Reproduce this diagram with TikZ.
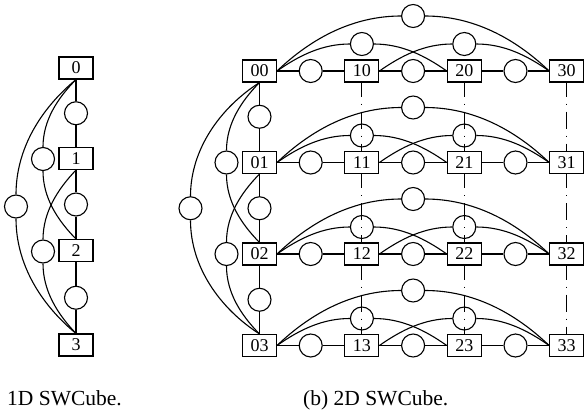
\documentclass[tikz,border=0pt]{standalone}
\usepackage{fontspec}
\setmainfont{Liberation Serif}
\begin{document}
\begin{tikzpicture}[x=1pt,y=1pt,
  box/.style={draw, rectangle, minimum width=34pt, minimum height=22pt, inner sep=0pt, font=\fontsize{18}{18}\selectfont, line width=1.1pt},
  circ/.style={draw, circle, minimum size=23pt, inner sep=0pt, line width=1.1pt},
  ln/.style={line width=1.1pt, looseness=0.9},
  dd/.style={line width=1pt, dash pattern=on 17pt off 7pt on 1pt off 7pt, dash phase=3pt},
  captxt/.style={anchor=base west, inner sep=0pt, font=\fontsize{21.5}{21.5}\selectfont}
]
\useasboundingbox (0,0) rectangle (584,-418);
% ---------- 1D ----------
\node[box] (a0) at (76,-68) {0};
\node[box] (a1) at (76,-158.5) {1};
\node[box] (a2) at (76,-250.5) {2};
\node[box] (a3) at (76,-345) {3};
\node[circ] (c01) at (76,-113.25) {};
\node[circ] (c12) at (76,-204.5) {};
\node[circ] (c23) at (76,-297.75) {};
\node[circ] (c02) at (43,-159) {};
\node[circ] (c13) at (43,-251.5) {};
\node[circ] (c03) at (16,-206.5) {};
\draw[ln] (a0) -- (c01) -- (a1) -- (c12) -- (a2) -- (c23) -- (a3);
\draw[ln] (a0.south) to[out=225.3,in=90] (c02.north) (c02.south) to[out=270,in=134.7] (a2.north);
\draw[ln] (a1.south) to[out=226.3,in=90] (c13.north) (c13.south) to[out=270,in=133.7] (a3.north);
\draw[ln] (a0.south) to[out=219.6,in=90] (c03.north) (c03.south) to[out=270,in=140.4] (a3.north);
% ---------- 2D ----------
\foreach \i in {0,...,3}{\foreach \j in {0,...,3}{
  \node[box] (b\i\j) at ({259.5+102.4*\i},{-71-91.5*\j}) {\i\j};
}}
\foreach \j in {0,...,3}{
  \pgfmathsetmacro\Y{-71-91.5*\j}
  \node[circ] (h0\j) at (310.7,\Y) {};
  \node[circ] (h1\j) at (413.1,\Y) {};
  \node[circ] (h2\j) at (515.5,\Y) {};
  \node[circ] (s0\j) at (361.9,\Y+27) {};
  \node[circ] (s1\j) at (464.3,\Y+27) {};
  \node[circ] (t\j) at (413.1,\Y+55) {};
  \draw[ln] (b0\j) -- (h0\j) -- (b1\j) -- (h1\j) -- (b2\j) -- (h2\j) -- (b3\j);
  \draw[ln] (b0\j.east) to[out=35.1,in=180] (s0\j.west) (s0\j.east) to[out=0,in=144.9] (b2\j.west);
  \draw[ln] (b1\j.east) to[out=35.1,in=180] (s1\j.west) (s1\j.east) to[out=0,in=144.9] (b3\j.west);
  \draw[ln] (b0\j.east) to[out=43.7,in=180] (t\j.west) (t\j.east) to[out=0,in=136.3] (b3\j.west);
}
\node[circ] (v0) at (259.5,-116.75) {};
\node[circ] (v1) at (259.5,-208.25) {};
\node[circ] (v2) at (259.5,-299.75) {};
\draw[ln] (b00) -- (v0) -- (b01) -- (v1) -- (b02) -- (v2) -- (b03);
\node[circ] (l02) at (226.5,-162.5) {};
\node[circ] (l13) at (226.5,-254) {};
\node[circ] (l03) at (190.5,-208.25) {};
\draw[ln] (b00.south) to[out=225.4,in=90] (l02.north) (l02.south) to[out=270,in=134.6] (b02.north);
\draw[ln] (b01.south) to[out=225.4,in=90] (l13.north) (l13.south) to[out=270,in=134.6] (b03.north);
\draw[ln] (b00.south) to[out=212.7,in=90] (l03.north) (l03.south) to[out=270,in=147.3] (b03.north);
\foreach \i in {1,2,3}{\foreach \j/\k in {0/1,1/2,2/3}{
  \draw[dd] (b\i\j.south) -- (b\i\k.north);
}}
% ---------- captions ----------
\node[captxt] (capa) at (7,-405) {1D SWCube.};
\node[captxt] (capb) at (303,-405) {(b) 2D SWCube.};
\end{tikzpicture}
\end{document}
